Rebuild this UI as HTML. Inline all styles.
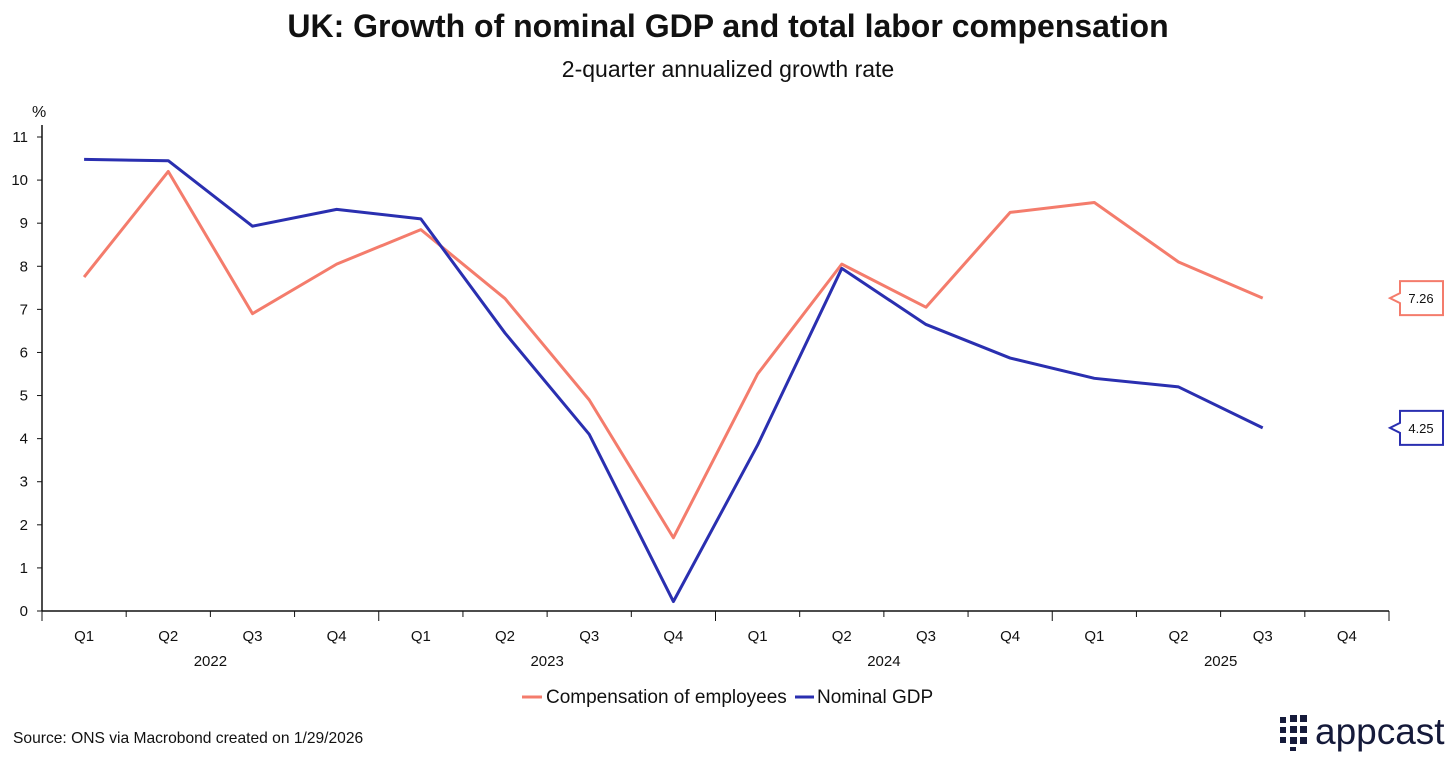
<!DOCTYPE html>
<html><head><meta charset="utf-8">
<style>
body{margin:0;background:#fff;font-family:"Liberation Sans",sans-serif;}
#wrap{position:relative;width:1456px;height:761px;overflow:hidden;}
</style></head>
<body>
<div id="wrap">
<svg id="chart" width="1456" height="761" xmlns="http://www.w3.org/2000/svg">
<text x="728" y="37" text-anchor="middle" font-size="32" font-weight="bold" fill="#111">UK: Growth of nominal GDP and total labor compensation</text>
<text x="728" y="77" text-anchor="middle" font-size="23" fill="#111">2-quarter annualized growth rate</text>
<text x="32" y="117" font-size="16" fill="#111">%</text>
<g id="yaxis"></g>
<g id="xaxis"></g>
<g id="series"></g>
<g>
<line x1="522" y1="697" x2="542" y2="697" stroke="#f47c6c" stroke-width="3"/>
<text x="546" y="703" font-size="19" fill="#111">Compensation of employees</text>
<line x1="795" y1="697" x2="814" y2="697" stroke="#2a2fb0" stroke-width="3"/>
<text x="817" y="703" font-size="19" fill="#111">Nominal GDP</text>
</g>
<text x="13" y="743" font-size="15.6" fill="#111">Source: ONS via Macrobond created on 1/29/2026</text>
<g>
<g fill="#151a3a">
<rect x="1280" y="717" width="6" height="6"/><rect x="1290" y="715" width="7" height="7"/><rect x="1300" y="715" width="7" height="7"/>
<rect x="1280" y="727" width="6" height="6"/><rect x="1290" y="726" width="7" height="7"/><rect x="1300" y="726" width="7" height="7"/>
<rect x="1280" y="737" width="6" height="6"/><rect x="1290" y="737" width="7" height="7"/><rect x="1300" y="737" width="7" height="7"/>
<rect x="1290" y="747" width="6" height="4"/>
</g>
<text x="1315" y="744" font-size="37" fill="#151a3a">appcast</text>
</g>
</svg>
</div>
<script>
const quarters = ["Q1","Q2","Q3","Q4","Q1","Q2","Q3","Q4","Q1","Q2","Q3","Q4","Q1","Q2","Q3","Q4"];
const years = ["2022","2023","2024","2025"];
const yTicks = [0,1,2,3,4,5,6,7,8,9,10,11];
const compensation = [7.75,10.2,6.9,8.05,8.85,7.25,4.9,1.7,5.5,8.05,7.05,9.25,9.48,8.1,7.26];
const nominalGDP = [10.48,10.45,8.93,9.32,9.1,6.45,4.1,0.22,3.85,7.95,6.65,5.87,5.4,5.2,4.25];
const compLabel = "7.26";
const gdpLabel = "4.25";

const NS = "http://www.w3.org/2000/svg";
const X0 = 42, X1 = 1389, Y0 = 611, Y11 = 137;
const step = (X1 - X0) / 16;
function xs(i){ return X0 + step * (i + 0.5); }
function ys(v){ return Y0 - (Y0 - Y11) * v / 11; }
function mk(tag, attrs, parent){ const e = document.createElementNS(NS, tag); for (const k in attrs) e.setAttribute(k, attrs[k]); parent.appendChild(e); return e; }

const ya = document.getElementById('yaxis');
let l = mk('line',{x1:X0,y1:ys(11)-12,x2:X0,y2:Y0,stroke:'#111','stroke-width':1.5},ya);


yTicks.forEach(v=>{
  const t = mk('line',{x1:X0-5,y1:ys(v),x2:X0,y2:ys(v),stroke:'#111'},ya);
  
  
  const tx = mk('text',{x:X0-14,y:ys(v)+5,'text-anchor':'end','font-size':15,fill:'#111'},ya);
  tx.textContent = v;
  
  
});

const xa = document.getElementById('xaxis');
l = mk('line',{x1:X0,y1:Y0,x2:X1,y2:Y0,stroke:'#111','stroke-width':1.5},xa);


for (let i=0;i<=16;i++){
  const big = i%4===0;
  const t = mk('line',{x1:X0+step*i,y1:Y0,x2:X0+step*i,y2:Y0+(big?10:6),stroke:'#111'},xa);
  
  
}
quarters.forEach((q,i)=>{
  const tx = mk('text',{x:xs(i),y:Y0+30,'text-anchor':'middle','font-size':15,fill:'#111'},xa);
  tx.textContent = q;
  
  
});
years.forEach((y,i)=>{
  const tx = mk('text',{x:X0+step*(4*i+2),y:Y0+55,'text-anchor':'middle','font-size':15,fill:'#111'},xa);
  tx.textContent = y;
  
  
});

const sg = document.getElementById('series');
function line(data,color,name,label){
  const p = mk('polyline',{points:data.map((v,i)=>xs(i)+','+ys(v)).join(' '),fill:'none',stroke:color,'stroke-width':3,'stroke-linejoin':'round'},sg);
  
  
  const yv = ys(data[data.length-1]);
  const g = mk('g',{},sg);
  
  
  mk('path',{d:`M1400 ${yv-17} H1443 V${yv+17} H1400 V${yv+5} L1390 ${yv} L1400 ${yv-5} Z`,fill:'#fff',stroke:color,'stroke-width':2},g);
  const tx = mk('text',{x:1421,y:yv+5,'text-anchor':'middle','font-size':13,fill:'#111'},g);
  tx.textContent = label;
}
line(compensation,'#f47c6c','compensation-line',compLabel);
line(nominalGDP,'#2a2fb0','nominal-gdp-line',gdpLabel);
</script>
</body></html>
